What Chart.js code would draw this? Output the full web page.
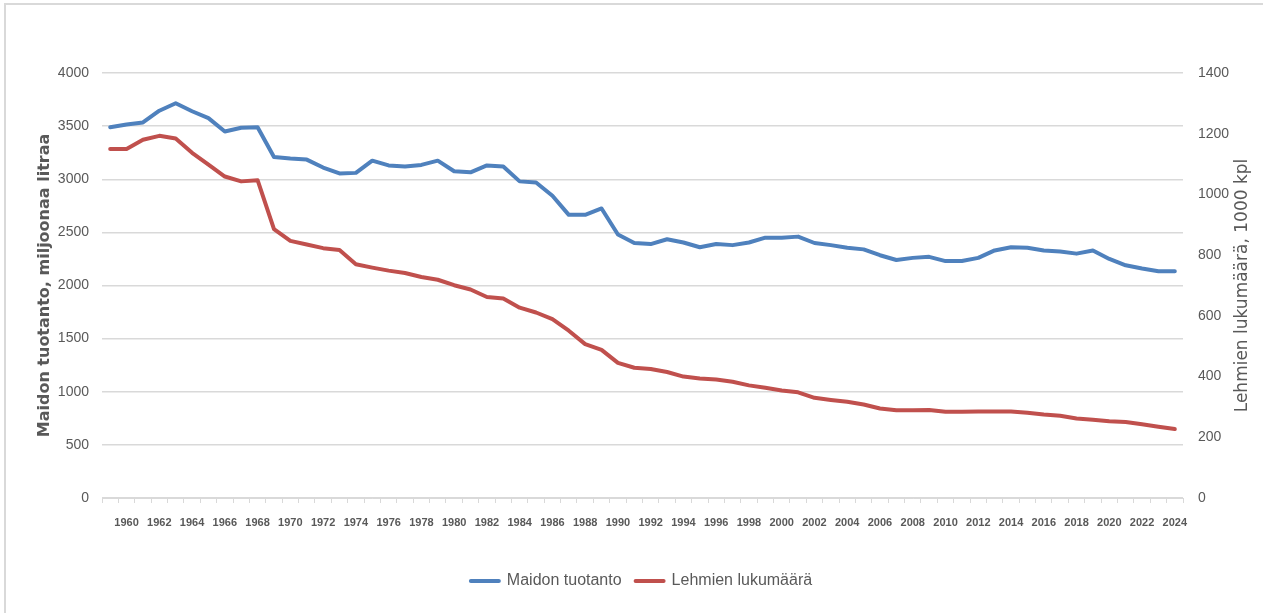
<!DOCTYPE html>
<html lang="fi">
<head>
<meta charset="utf-8">
<title>Maidon tuotanto ja lehmien lukumäärä</title>
<script src="https://cdn.jsdelivr.net/npm/chart.js@4/dist/chart.umd.min.js"></script>
<style>
  html, body { margin: 0; padding: 0; background: #fff; }
  #wrap { position: relative; width: 1263px; height: 613px; }
  #reuna { position: absolute; left: 4px; top: 3px; right: 0; bottom: 0;
           border-top: 2px solid #d9d9d9; border-left: 2px solid #d9d9d9; pointer-events: none; }
</style>
</head>
<body>
<div id="wrap">
  <canvas id="grafiikka"></canvas>
  <div id="reuna"></div>
</div>
<script>
// Vuodet 1959-2024
const vuodet = [];
for (let v = 1959; v <= 2024; v++) vuodet.push(String(v));

// Maidon tuotanto, miljoonaa litraa (vasen akseli)
const maidonTuotanto = [
  3490, 3515, 3535, 3645, 3715, 3640, 3575, 3450, 3485, 3490,
  3210, 3195, 3185, 3110, 3055, 3060, 3175, 3130, 3120, 3135,
  3175, 3075, 3065, 3130, 3120, 2980, 2970, 2845, 2665, 2665,
  2725, 2480, 2400, 2390, 2435, 2405, 2360, 2390, 2380, 2405,
  2450, 2450, 2460, 2400, 2380, 2355, 2340, 2285, 2240, 2260,
  2270, 2230, 2230, 2260, 2330, 2360, 2355, 2330, 2320, 2300,
  2330, 2250, 2190, 2160, 2135, 2135
];

// Lehmien lukumäärä, 1000 kpl (oikea akseli)
const lehmienLukumaara = [
  1150, 1150, 1180, 1193, 1184, 1137, 1098, 1059, 1043, 1047,
  886, 847, 835, 823, 817, 770, 759, 749, 741, 728,
  719, 701, 687, 662, 657, 627, 611, 589, 551, 507,
  488, 445, 429, 425, 415, 400, 394, 390, 383, 371,
  363, 354, 348, 330, 323, 317, 308, 295, 289, 289,
  290, 284, 284, 285, 285, 285, 281, 275, 271, 262,
  258, 253, 250, 243, 235, 227
];

const sininen = '#4f81bd';
const punainen = '#c0504d';
const harmaa = '#595959';
const viiva = '#d9d9d9';
const fontti = "'Liberation Sans', Arial, sans-serif";
const oikeaOtsikko = 'Lehmien lukumäärä, 1000 kpl';

// Oikean akselin otsikko luetaan alhaalta ylös kuten Excelissä
const oikeaOtsikkoPlugin = {
  id: 'oikeaOtsikko',
  afterDraw(chart) {
    const c = chart.ctx;
    const alue = chart.chartArea;
    c.save();
    c.translate(1243, (alue.top + alue.bottom) / 2);
    c.rotate(-Math.PI / 2);
    c.fillStyle = harmaa;
    c.font = "17px 'DejaVu Sans', Verdana, sans-serif";
    c.textAlign = 'center';
    c.textBaseline = 'middle';
    c.fillText(oikeaOtsikko, 0, 0);
    c.restore();
  }
};

const ctx = document.getElementById('grafiikka').getContext('2d');

new Chart(ctx, {
  type: 'line',
  data: {
    labels: vuodet,
    datasets: [
      {
        label: 'Maidon tuotanto',
        data: maidonTuotanto,
        yAxisID: 'y',
        borderColor: sininen,
        backgroundColor: sininen,
        borderWidth: 4,
        borderJoinStyle: 'round',
        borderCapStyle: 'round',
        pointRadius: 0,
        tension: 0
      },
      {
        label: 'Lehmien lukumäärä',
        data: lehmienLukumaara,
        yAxisID: 'y1',
        borderColor: punainen,
        backgroundColor: punainen,
        borderWidth: 4,
        borderJoinStyle: 'round',
        borderCapStyle: 'round',
        pointRadius: 0,
        tension: 0
      }
    ]
  },
  plugins: [oikeaOtsikkoPlugin],
  options: {
    responsive: true,
    maintainAspectRatio: false,
    animation: false,
    layout: { padding: { top: 73, left: 20, right: 0, bottom: 14 } },
    plugins: {
      tooltip: { enabled: false },
      legend: {
        position: 'bottom',
        labels: {
          color: harmaa,
          font: { family: fontti, size: 16 },
          boxWidth: 28,
          boxHeight: 0,
          padding: 14
        }
      }
    },
    scales: {
      x: {
        offset: true,
        grid: {
          offset: true,
          drawOnChartArea: false,
          color: viiva,
          tickLength: 5
        },
        border: { display: true, color: viiva, width: 1 },
        ticks: {
          autoSkip: false,
          maxRotation: 0,
          minRotation: 0,
          padding: 13,
          color: harmaa,
          font: { family: fontti, size: 11, weight: 'bold' },
          callback: function (value, index) {
            const vuosi = Number(vuodet[index]);
            return vuosi % 2 === 0 ? vuodet[index] : '';
          }
        },
        afterFit: function (scale) { scale.height = 61; }
      },
      y: {
        position: 'left',
        min: 0,
        max: 4000,
        grid: { color: viiva, lineWidth: 1.5, drawTicks: false },
        border: { display: false },
        ticks: {
          stepSize: 500,
          padding: 13,
          color: harmaa,
          font: { family: fontti, size: 14 },
          callback: function (value) { return String(value); }
        },
        title: {
          display: true,
          text: 'Maidon tuotanto, miljoonaa litraa',
          color: harmaa,
          font: { family: "'DejaVu Sans', Verdana, sans-serif", size: 16, weight: 'bold' },
          padding: { top: 15, bottom: 0 }
        },
        afterFit: function (scale) { scale.width = 82; }
      },
      y1: {
        position: 'right',
        min: 0,
        max: 1400,
        grid: { display: false, drawOnChartArea: false },
        border: { display: false },
        ticks: {
          stepSize: 200,
          padding: 7,
          color: harmaa,
          font: { family: fontti, size: 14 },
          callback: function (value) { return String(value); }
        },
        afterFit: function (scale) { scale.width = 80; }
      }
    }
  }
});
</script>
</body>
</html>
